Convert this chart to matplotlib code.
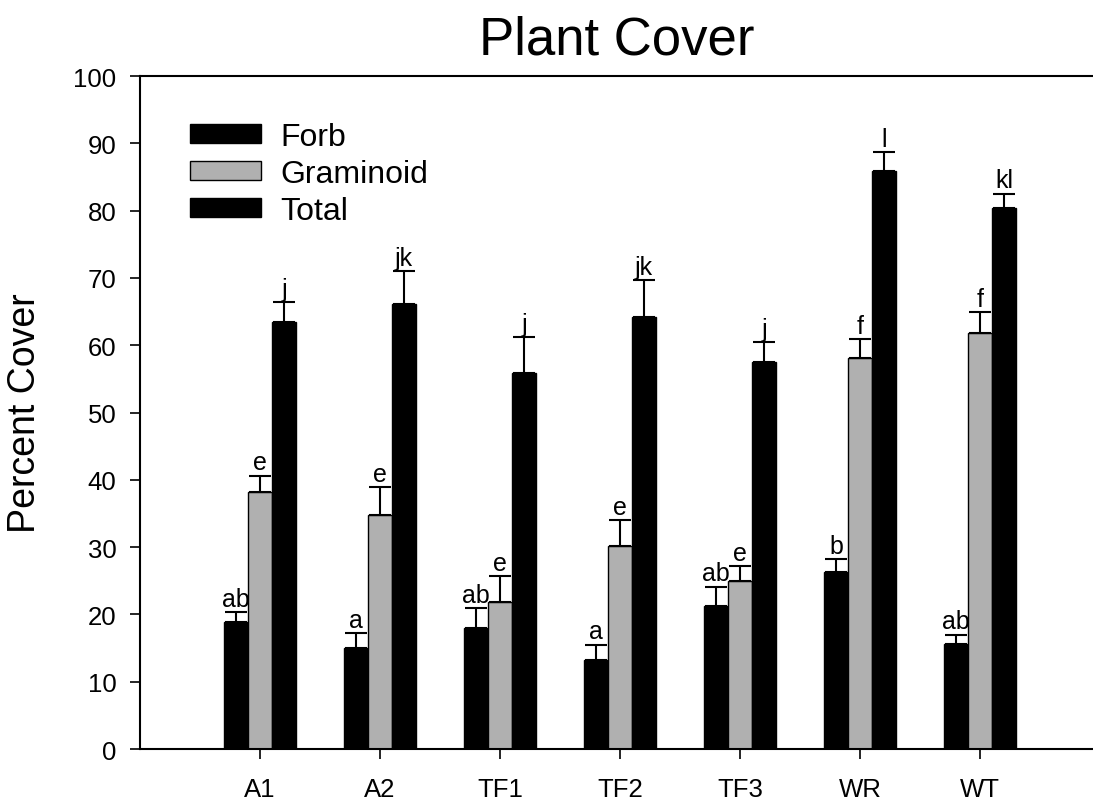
import numpy as np
import matplotlib
matplotlib.use("Agg")
import matplotlib.pyplot as plt

plt.rcParams['font.family'] = ['Liberation Sans', 'DejaVu Sans']

sites = ["A1", "A2", "TF1", "TF2", "TF3", "WR", "WT"]
forb = [18.8, 15.0, 18.0, 13.2, 21.2, 26.3, 15.6]
forb_err = [1.5, 2.2, 2.9, 2.3, 2.9, 1.9, 1.4]
gram = [38.2, 34.8, 21.8, 30.2, 25.0, 58.1, 61.8]
gram_err = [2.4, 4.1, 3.9, 3.8, 2.2, 2.8, 3.1]
total = [63.4, 66.1, 55.9, 64.2, 57.5, 85.9, 80.4]
total_err = [3.0, 4.9, 5.3, 5.5, 3.0, 2.8, 2.1]
forb_lab = ["ab", "a", "ab", "a", "ab", "b", "ab"]
gram_lab = ["e", "e", "e", "e", "e", "f", "f"]
total_lab = ["j", "jk", "j", "jk", "j", "l", "kl"]

fig = plt.figure(figsize=(10.93, 8.03), dpi=100)
ax = fig.add_axes([0.128, 0.066, 0.872, 0.838])

x = np.arange(len(sites))
w = 0.2
series = [
    (forb, forb_err, forb_lab, "black", "Forb", -w),
    (gram, gram_err, gram_lab, "#b0b0b0", "Graminoid", 0),
    (total, total_err, total_lab, "black", "Total", w),
]
for vals, errs, labs, col, name, off in series:
    ax.bar(x + off, vals, w, color=col, edgecolor="black", linewidth=1, label=name)
    ax.errorbar(x + off, vals, yerr=[np.zeros(len(errs)), errs], fmt="none",
                ecolor="black", elinewidth=1.5, capsize=8, capthick=1.5)
    for xi, v, e, t in zip(x + off, vals, errs, labs):
        ax.annotate(t, (xi, v + e), xytext=(0, 1), textcoords="offset points",
                    ha="center", va="bottom", fontsize=18)

ax.set_xlim(-1, 6.94)
ax.set_ylim(0, 100)
ax.set_yticks(np.arange(0, 101, 10))
ax.set_xticks(x)
ax.set_xticklabels(sites)
ax.tick_params(axis="y", direction="out", length=7, width=1.2, labelsize=18.5, pad=10)
ax.tick_params(axis="x", direction="out", length=7, width=1.2, labelsize=18.5, pad=13)
ax.spines["right"].set_visible(False)
for s in ["left", "top", "bottom"]:
    ax.spines[s].set_linewidth(1.5)

ax.set_ylabel("Percent Cover", fontsize=27, labelpad=22)
ax.set_title("Plant Cover", fontsize=38, pad=16)

ax.legend(loc="upper left", bbox_to_anchor=(0.022, 0.975), frameon=False,
          fontsize=23, handlelength=2.25, handleheight=0.55, handletextpad=0.6,
          labelspacing=0.22)

fig.savefig("out.png", dpi=100)
